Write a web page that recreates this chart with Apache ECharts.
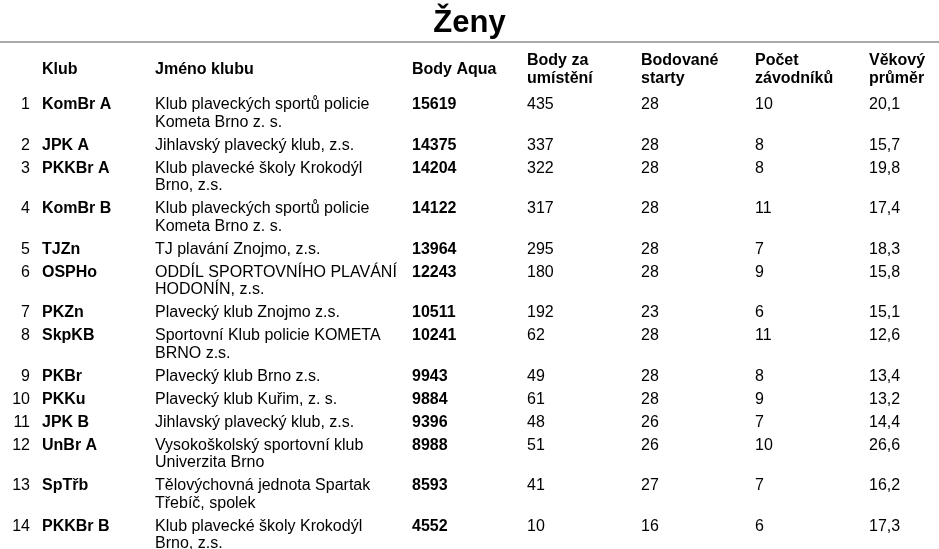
<!DOCTYPE html>
<html>
<head>
<meta charset="utf-8">
<script src="https://cdn.jsdelivr.net/npm/echarts@6/dist/echarts.min.js"></script>
<style>html,body{margin:0;padding:0;background:#fff}#ch{width:939px;height:549px}</style>
</head>
<body>
<div id="ch"></div>
<script>
var headers = ['', 'Klub', 'Jméno klubu', 'Body Aqua', 'Body za\numístění', 'Bodované\nstarty', 'Počet\nzávodníků', 'Věkový\nprůměr'];
var ranks = [1, 2, 3, 4, 5, 6, 7, 8, 9, 10, 11, 12, 13, 14];
var clubs = ['KomBr A', 'JPK A', 'PKKBr A', 'KomBr B', 'TJZn', 'OSPHo', 'PKZn', 'SkpKB', 'PKBr', 'PKKu', 'JPK B', 'UnBr A', 'SpTřb', 'PKKBr B'];
var names = ['Klub plaveckých sportů policie\nKometa Brno z. s.', 'Jihlavský plavecký klub, z.s.', 'Klub plavecké školy Krokodýl\nBrno, z.s.',
  'Klub plaveckých sportů policie\nKometa Brno z. s.', 'TJ plavání Znojmo, z.s.', 'ODDÍL SPORTOVNÍHO PLAVÁNÍ\nHODONÍN, z.s.',
  'Plavecký klub Znojmo z.s.', 'Sportovní Klub policie KOMETA\nBRNO z.s.', 'Plavecký klub Brno z.s.', 'Plavecký klub Kuřim, z. s.',
  'Jihlavský plavecký klub, z.s.', 'Vysokoškolský sportovní klub\nUniverzita Brno', 'Tělovýchovná jednota Spartak\nTřebíč, spolek', 'Klub plavecké školy Krokodýl\nBrno, z.s.'];
var bodyAqua = [15619, 14375, 14204, 14122, 13964, 12243, 10511, 10241, 9943, 9884, 9396, 8988, 8593, 4552];
var bodyUmisteni = [435, 337, 322, 317, 295, 180, 192, 62, 49, 61, 48, 51, 41, 10];
var starty = [28, 28, 28, 28, 28, 28, 23, 28, 28, 28, 26, 26, 27, 16];
var zavodniku = [10, 8, 8, 11, 7, 9, 6, 11, 8, 9, 7, 10, 7, 6];
var prumer = ['20,1', '15,7', '19,8', '17,4', '18,3', '15,8', '15,1', '12,6', '13,4', '13,2', '14,4', '26,6', '16,2', '17,3'];

// layout
var colX = [30, 42, 155, 412, 527, 641, 755, 869];
var lineH = 17.5, rowPad = 5.5, firstTop = 96;
var rowTop = [], y = firstTop;
names.forEach(function (n) { rowTop.push(y); y += rowPad + lineH * n.split('\n').length; });

var font = '"Liberation Sans", Arial, sans-serif';
var chart = echarts.init(document.getElementById('ch'));
chart.setOption({
  animation: false,
  title: { text: 'Ženy', left: 'center', top: 3, textStyle: { fontFamily: font, fontSize: 31, fontWeight: 'bold', color: '#000' } },
  grid: { left: 0, right: 0, top: 0, bottom: 0 },
  xAxis: { type: 'value', min: 0, max: 939, show: false },
  yAxis: { type: 'value', min: 0, max: 549, inverse: true, show: false },
  graphic: [{ type: 'line', shape: { x1: 0, y1: 42, x2: 939, y2: 42 }, style: { stroke: '#555', lineWidth: 1 } }],
  series: [{
    type: 'custom',
    data: ranks.map(function (r, i) { return [i, rowTop[i]]; }),
    renderItem: function (params, api) {
      var i = api.value(0), top = api.value(1);
      var cells = [String(ranks[i]), clubs[i], names[i], String(bodyAqua[i]), String(bodyUmisteni[i]), String(starty[i]), String(zavodniku[i]), prumer[i]];
      var children = cells.map(function (t, c) {
        var p = api.coord([colX[c], top]);
        return { type: 'text', style: { x: p[0], y: p[1], text: t, textAlign: c === 0 ? 'right' : 'left', textVerticalAlign: 'top',
          font: ((c === 1 || c === 3) ? 'bold ' : '') + '16px ' + font, lineHeight: lineH, fill: '#000' } };
      });
      return { type: 'group', children: children };
    }
  }, {
    type: 'custom',
    data: headers.map(function (h, c) { return [c]; }),
    renderItem: function (params, api) {
      var c = api.value(0), h = headers[c];
      var top = h.indexOf('\n') >= 0 ? 52 : 61;
      var p = api.coord([colX[c], top]);
      return { type: 'text', style: { x: p[0], y: p[1], text: h, textVerticalAlign: 'top', font: 'bold 16px ' + font, lineHeight: lineH, fill: '#000' } };
    }
  }]
});
</script>
</body>
</html>
